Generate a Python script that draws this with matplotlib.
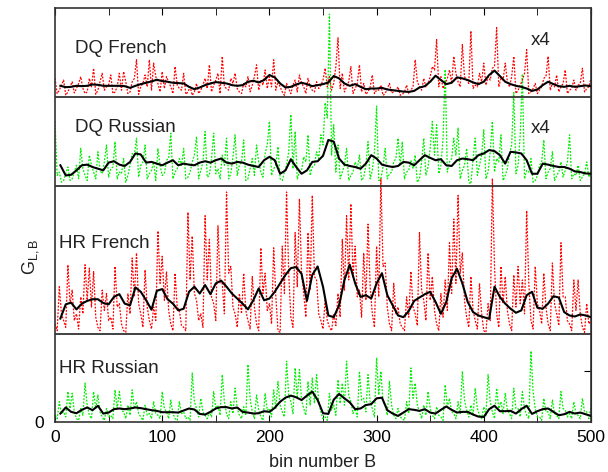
import numpy as np
import matplotlib
matplotlib.use('Agg')
import matplotlib.pyplot as plt

plt.rcParams['font.family'] = ['Liberation Sans', 'DejaVu Sans']
plt.rcParams['mathtext.fontset'] = 'custom'
plt.rcParams['mathtext.rm'] = 'Liberation Sans'
plt.rcParams['mathtext.it'] = 'Liberation Sans:italic'

# raw series: values at bins 0,4,8,... ("even") and 2,6,10,... ("mid"); smoothed every 5 bins
bins_raw = np.arange(0, 501, 2)
bins_smooth = np.arange(0, 501, 5)

dq_french_raw = [55, 20, 50, 15, 45, 25, 60, 10, 55, 85, 20, 70, 30, 65, 15, 70, 75, 10, 45, 110,
                 30, 65, 110, 100, 40, 75, 60, 30, 90, 25, 70, 15, 5, 40, 20, 55, 95, 35, 70, 120,
                 25, 55, 70, 15, 40, 60, 35, 95, 50, 80, 60, 110, 45, 15, 40, 10, 50, 65, 30, 55,
                 20, 45, 35, 85, 60, 40, 175, 70, 30, 90, 25, 95, 40, 15, 65, 20, 35, 10, 40, 15,
                 30, 8, 35, 20, 110, 30, 55, 40, 90, 170, 60, 40, 80, 120, 45, 155, 50, 195, 35, 70,
                 100, 60, 85, 205, 55, 100, 30, 120, 20, 50, 140, 15, 40, 20, 55, 120, 40, 65, 30, 80,
                 20, 50, 35, 85, 25, 55]
dq_french_mid = [10, 35, 5, 30, 12, 40, 25, 15, 30, 8, 45, 20, 35, 10, 30, 20, 45, 15, 55, 8,
                 40, 30, 20, 60, 15, 25, 45, 10, 35, 20, 8, 30, 15, 10, 35, 25, 15, 50, 10, 30,
                 20, 40, 25, 10, 30, 15, 60, 20, 35, 25, 30, 20, 30, 5, 25, 35, 15, 40, 10, 30,
                 15, 25, 50, 30, 20, 90, 25, 15, 45, 10, 40, 15, 8, 30, 10, 20, 5, 25, 12, 20,
                 5, 15, 10, 30, 45, 20, 30, 60, 80, 30, 25, 55, 40, 70, 30, 60, 40, 25, 30, 45,
                 35, 50, 90, 30, 50, 45, 60, 10, 35, 70, 10, 25, 10, 30, 60, 20, 30, 15, 40, 10,
                 25, 20, 40, 15, 30]
dq_french_smooth = [38, 33, 29, 30, 33, 32, 33, 37, 36, 33, 33, 33, 33, 32, 27, 33, 38, 42, 46, 51,
                    47, 45, 42, 41, 40, 30, 23, 28, 35, 40, 44, 42, 40, 35, 33, 35, 45, 48, 43, 50,
                    65, 58, 40, 28, 30, 37, 42, 38, 32, 35, 38, 43, 62, 55, 40, 33, 38, 30, 23, 25,
                    25, 27, 22, 20, 18, 16, 15, 18, 28, 32, 45, 63, 50, 38, 42, 58, 55, 50, 43, 38,
                    45, 65, 78, 62, 45, 38, 33, 30, 25, 18, 22, 35, 45, 38, 32, 30, 33, 30, 32, 34, 32]

dq_russian_raw = [190, 40, 15, 55, 20, 60, 110, 30, 90, 40, 100, 35, 120, 50, 130, 40, 80, 30, 95, 140,
                  60, 120, 35, 70, 110, 30, 75, 155, 40, 80, 110, 25, 70, 145, 45, 160, 30, 155, 50, 90,
                  140, 35, 150, 60, 135, 20, 80, 120, 40, 95, 190, 50, 115, 15, 60, 210, 160, 40, 85, 150,
                  55, 100, 150, 245, 507, 180, 120, 40, 110, 30, 70, 90, 25, 130, 45, 235, 20, 110, 35, 70,
                  140, 130, 40, 75, 90, 20, 140, 55, 190, 180, 60, 343, 70, 140, 170, 45, 110, 5, 140, 60,
                  165, 40, 190, 80, 150, 30, 95, 275, 60, 330, 45, 80, 15, 60, 135, 40, 100, 30, 70, 45,
                  150, 35, 60, 25, 70, 40]
dq_russian_mid = [30, 10, 35, 15, 40, 20, 50, 15, 60, 20, 45, 70, 25, 55, 20, 35, 10, 60, 90, 25,
                  70, 20, 45, 15, 60, 35, 80, 20, 50, 60, 20, 40, 90, 20, 70, 25, 80, 35, 20, 60,
                  20, 85, 30, 70, 15, 50, 30, 70, 25, 120, 30, 60, 20, 40, 100, 50, 20, 45, 70, 30,
                  60, 80, 120, 200, 90, 40, 20, 60, 15, 40, 50, 15, 60, 20, 100, 15, 55, 20, 40, 80,
                  60, 20, 45, 50, 10, 70, 30, 110, 90, 35, 140, 40, 80, 90, 20, 60, 10, 80, 30, 90,
                  20, 100, 40, 70, 15, 50, 120, 35, 150, 20, 40, 10, 30, 70, 20, 50, 15, 40, 25, 70,
                  20, 30, 15, 35, 25]
dq_russian_smooth = [65, 60, 30, 32, 45, 60, 62, 55, 50, 45, 68, 72, 62, 58, 70, 95, 92, 68, 70, 65,
                     60, 68, 75, 60, 65, 62, 60, 68, 72, 68, 75, 80, 68, 65, 70, 68, 62, 58, 55, 75,
                     85, 75, 35, 45, 78, 55, 35, 45, 70, 72, 88, 135, 130, 80, 62, 58, 55, 50, 65, 90,
                     80, 62, 58, 55, 58, 70, 68, 60, 75, 90, 82, 75, 78, 60, 58, 75, 80, 78, 75, 90,
                     95, 105, 102, 90, 65, 100, 98, 95, 75, 35, 35, 65, 62, 58, 55, 55, 50, 42, 40, 36, 35]

hr_french_raw = [30, 140, 40, 205, 130, 60, 110, 205, 195, 185, 20, 130, 120, 50, 200, 90, 10, 120, 225, 240,
                 60, 190, 40, 80, 305, 230, 185, 30, 180, 70, 20, 360, 290, 100, 60, 350, 280, 90, 320, 150,
                 420, 200, 60, 120, 180, 40, 170, 30, 255, 180, 90, 255, 10, 260, 420, 50, 300, 400, 120, 300,
                 410, 160, 40, 100, 20, 60, 120, 280, 350, 385, 260, 130, 240, 325, 60, 260, 460, 210, 30, 150,
                 80, 20, 110, 185, 60, 300, 100, 240, 170, 30, 120, 160, 270, 340, 410, 240, 50, 170, 40, 150,
                 10, 90, 460, 60, 200, 170, 30, 175, 200, 160, 365, 40, 200, 70, 180, 30, 210, 60, 270, 110,
                 30, 160, 160, 20, 90, 40]
hr_french_mid = [10, 60, 20, 90, 40, 15, 60, 100, 80, 50, 10, 70, 40, 15, 80, 30, 5, 60, 110, 90,
                 20, 80, 15, 40, 150, 100, 70, 10, 80, 25, 10, 160, 120, 40, 20, 160, 110, 40, 150, 60,
                 180, 80, 20, 60, 70, 15, 80, 10, 120, 70, 30, 110, 5, 120, 180, 20, 140, 180, 50, 130,
                 170, 60, 15, 40, 10, 25, 50, 130, 160, 170, 110, 50, 100, 140, 20, 110, 200, 80, 10, 60,
                 30, 10, 50, 80, 25, 130, 40, 100, 70, 10, 50, 70, 120, 150, 180, 100, 20, 70, 15, 60,
                 5, 40, 200, 20, 90, 70, 10, 80, 90, 60, 150, 15, 90, 30, 80, 10, 90, 25, 110, 40,
                 10, 70, 60, 5, 30]
hr_french_smooth = [46, 46, 88, 93, 73, 90, 98, 103, 103, 92, 88, 110, 118, 90, 85, 138, 125, 100, 72, 128,
                    133, 103, 90, 70, 75, 125, 140, 120, 145, 118, 150, 158, 140, 120, 105, 90, 73, 100, 135, 100,
                    105, 125, 150, 175, 195, 198, 178, 98, 175, 200, 140, 55, 50, 85, 160, 205, 150, 110, 115, 105,
                    150, 180, 115, 85, 55, 50, 68, 98, 108, 118, 125, 95, 60, 95, 165, 193, 150, 95, 65, 55,
                    50, 45, 140, 110, 90, 75, 63, 70, 115, 125, 78, 75, 90, 112, 108, 65, 55, 52, 58, 55, 50]

hr_russian_raw = [20, 60, 30, 90, 85, 10, 40, 115, 20, 90, 80, 15, 40, 20, 95, 90, 30, 50, 95, 60,
                  15, 50, 25, 60, 20, 90, 30, 65, 10, 60, 30, 15, 145, 40, 70, 20, 30, 90, 50, 140,
                  25, 60, 100, 20, 45, 170, 30, 80, 15, 85, 40, 95, 120, 30, 180, 60, 160, 155, 40, 120,
                  130, 140, 30, 15, 85, 50, 125, 115, 180, 60, 40, 150, 70, 140, 40, 190, 150, 50, 120, 20,
                  40, 10, 60, 160, 115, 30, 50, 90, 20, 45, 15, 110, 70, 25, 60, 150, 35, 50, 100, 20,
                  45, 140, 30, 100, 60, 85, 25, 100, 40, 90, 20, 210, 40, 15, 70, 30, 65, 20, 90, 35,
                  25, 60, 20, 70, 30, 45]
hr_russian_mid = [10, 25, 15, 40, 30, 5, 20, 50, 10, 40, 30, 5, 15, 10, 40, 35, 10, 20, 40, 25,
                  5, 20, 10, 25, 10, 40, 10, 25, 5, 25, 10, 5, 60, 15, 30, 10, 15, 40, 20, 60,
                  10, 25, 40, 10, 20, 70, 10, 35, 5, 35, 15, 40, 50, 15, 80, 25, 70, 65, 20, 50,
                  55, 60, 10, 5, 35, 20, 55, 50, 80, 25, 15, 65, 30, 60, 15, 80, 60, 20, 50, 10,
                  15, 5, 25, 70, 50, 10, 20, 40, 10, 20, 5, 45, 30, 10, 25, 65, 15, 20, 40, 10,
                  20, 60, 10, 40, 25, 35, 10, 40, 15, 40, 10, 90, 15, 5, 30, 10, 25, 10, 40, 15,
                  10, 25, 10, 30, 10]
hr_russian_smooth = [23, 25, 43, 30, 26, 36, 43, 35, 48, 25, 28, 38, 40, 38, 40, 43, 41, 38, 35, 33,
                     29, 29, 29, 28, 34, 40, 37, 24, 22, 30, 40, 44, 44, 40, 43, 30, 28, 25, 26, 32,
                     30, 42, 60, 72, 78, 73, 65, 78, 90, 65, 26, 24, 66, 83, 70, 58, 38, 40, 50, 53,
                     70, 72, 35, 25, 18, 28, 38, 36, 33, 38, 28, 25, 36, 46, 36, 28, 30, 30, 22, 16,
                     15, 38, 48, 32, 32, 33, 25, 38, 48, 24, 32, 38, 40, 30, 20, 23, 30, 25, 28, 23, 18]


def interleave(even, mid):
    out = np.empty(len(even) + len(mid))
    out[0::2] = even
    out[1::2] = mid
    return out


# panel stacking (bottom to top): name, raw, mid, smooth, colour, panel height, label, label y frac
panels = [
    ("HR Russian", hr_russian_raw, hr_russian_mid, hr_russian_smooth, "#00ee00", 260, "", 0.61),
    ("HR French", hr_french_raw, hr_french_mid, hr_french_smooth, "#ff0000", 439, "", 0.61),
    ("DQ Russian", dq_russian_raw, dq_russian_mid, dq_russian_smooth, "#00ee00", 262, "x4", 0.66),
    ("DQ French", dq_french_raw, dq_french_mid, dq_french_smooth, "#ff0000", 263, "x4", 0.55),
]

fig = plt.figure(figsize=(6.08, 4.72), dpi=100)
ax = fig.add_axes([0.0905, 0.1059, 0.8815, 0.8771])

offsets = []
base = 0
for p in panels:
    offsets.append(base)
    base += p[5]
top = base

for p, off in zip(panels, offsets):
    ys = interleave(p[1], p[2])
    ax.plot(bins_raw, ys + off, color=p[4], lw=0.9, ls=(0, (1.5, 1.2)), zorder=2)

for p, off in zip(panels, offsets):
    name, raw, mid, smooth, col, height, mult, fy = p
    ax.plot(bins_smooth[1:], np.array(smooth[1:]) + off, color='black', lw=1.5, zorder=3)
    lab_x = 4 if name.startswith("HR") else 19
    ax.text(lab_x, off + height * fy, name, fontsize=13.5, va='center', ha='left', color='#222222')
    if mult:
        ax.text(444, off + height * 0.64, mult, fontsize=13.5, va='center', ha='left', color='#222222')
    if off > 0:
        ax.axhline(off, color='#333333', lw=1.3, zorder=4)

ax.set_xlim(0, 500)
ax.set_ylim(0, top)
ax.set_xticks(np.arange(0, 501, 100))
ax.set_xticks(np.arange(50, 500, 100), minor=True)
ax.set_yticks([0])
ax.set_yticklabels(['0'])
ax.tick_params(axis='both', which='both', direction='in', labelsize=12.5, top=True)
ax.tick_params(axis='x', which='major', length=5, pad=6)
ax.tick_params(axis='x', which='minor', length=5)
ax.tick_params(axis='y', length=0, pad=8)
sec = ax.secondary_yaxis('right')
sec.set_yticks([150])
sec.set_yticklabels([''])
sec.tick_params(direction='in', length=5)

for s in ax.spines.values():
    s.set_linewidth(1.2)
    s.set_color('#333333')

ax.set_xlabel('bin number B', fontsize=13, labelpad=6, color='#222222')
ax.set_ylabel(r'$\mathrm{G}_{\mathrm{L,B}}$', fontsize=13, color='#222222')
ax.yaxis.set_label_coords(-0.026, 0.40)

fig.savefig('out.png', dpi=100)
